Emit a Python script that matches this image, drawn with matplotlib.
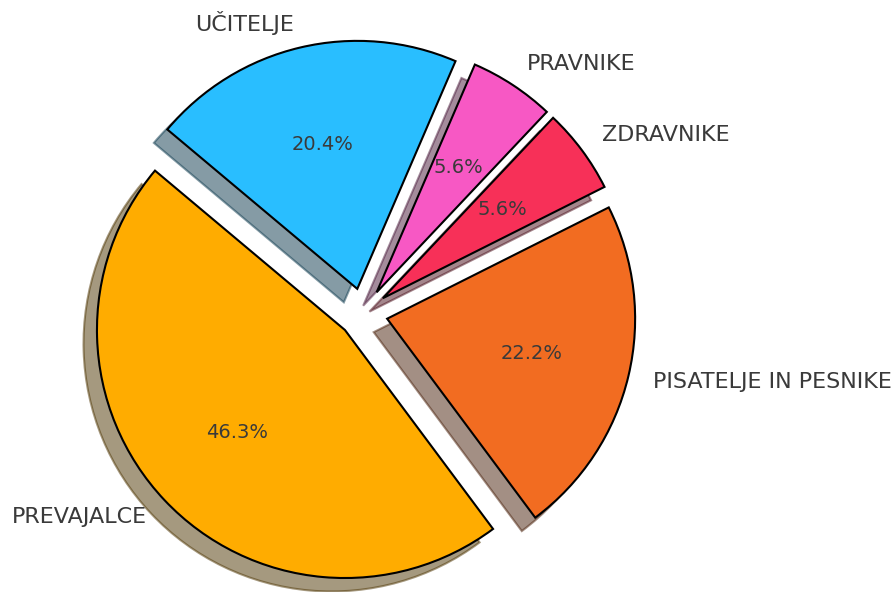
import matplotlib
matplotlib.use("Agg")
import matplotlib.pyplot as plt

categories = ["PREVAJALCE", "PISATELJE IN PESNIKE", "ZDRAVNIKE", "PRAVNIKE", "UČITELJE"]
counts = [25, 12, 3, 3, 11]
colors = ["#FFAC00", "#F26C21", "#F73058", "#F758C4", "#29BEFF"]
explode = [0.1, 0.1, 0.1, 0.1, 0.1]

W, H = 896, 592
fig = plt.figure(figsize=(W / 100, H / 100), dpi=100)
r_px = 248
cx, cy = 363, 313
w = 2.5 * r_px
ax = fig.add_axes([(cx - w / 2) / W, (H - cy - w / 2) / H, w / W, w / H])

wedges, texts, autotexts = ax.pie(
    counts, labels=categories, colors=colors, explode=explode,
    startangle=140, autopct="%1.1f%%",
    shadow={"ox": -0.039, "oy": -0.039},
    wedgeprops={"edgecolor": "black", "linewidth": 1.5},
    textprops={"color": "#3a3a3a"},
)
for t in texts:
    t.set_fontsize(16)
for t in autotexts:
    t.set_fontsize(14)
    t.set_color("#3a3a3a")

ax.set_xlim(-1.25, 1.25)
ax.set_ylim(-1.25, 1.25)
fig.savefig("out.png", dpi=100)
